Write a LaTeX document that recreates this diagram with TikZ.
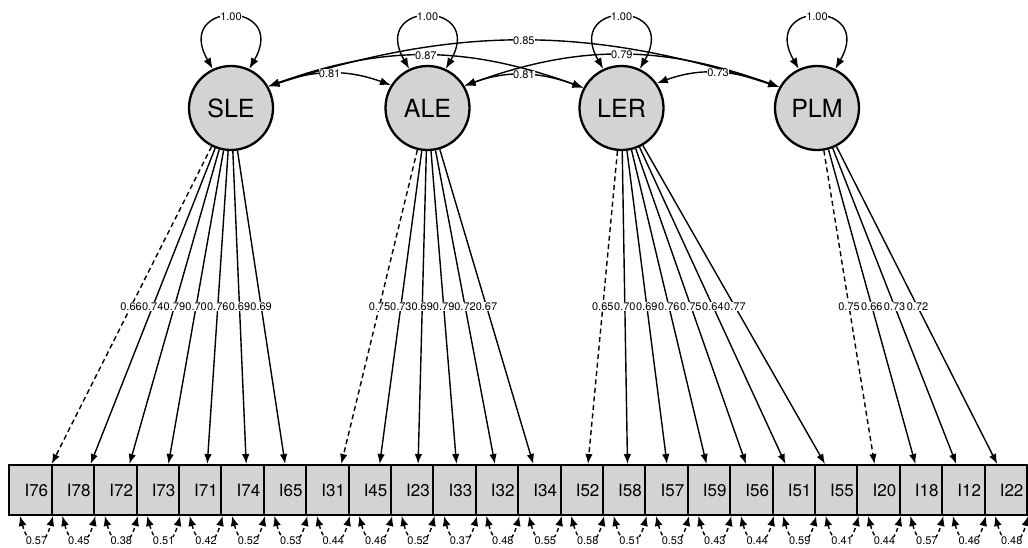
\documentclass[tikz,border=0pt]{standalone}
\usepackage{fontspec}
\setmainfont{TeX Gyre Heros}
\usetikzlibrary{arrows.meta,calc}
\definecolor{latfill}{RGB}{211,211,211}
\tikzset{
  lat/.style={circle, draw, line width=2.3pt, fill=latfill, minimum size=84pt, inner sep=0pt, font=\fontsize{25}{25}\selectfont},
  man/.style={rectangle, draw, line width=2pt, fill=latfill, minimum height=50pt, text width=35.4pt, inner xsep=3.5pt, inner ysep=0pt, align=right, font=\fontsize{17}{17}\selectfont},
  load/.style={-{Latex[length=10pt,width=7.5pt]}, line width=1.4pt},
  loaddash/.style={load, dash pattern=on 5pt off 3.5pt},
  cov/.style={{Latex[length=11pt,width=8pt]}-{Latex[length=11pt,width=8pt]}, line width=1.4pt},
  resid/.style={{Latex[length=10pt,width=8pt]}-{Latex[length=10pt,width=8pt]}, line width=1.4pt, dash pattern=on 4pt off 3pt},
  lbl/.style={fill=white, inner sep=0.3pt, font=\fontsize{11}{11}\selectfont},
}
\begin{document}
\begin{tikzpicture}[x=1pt,y=1pt]
\useasboundingbox (0,0) rectangle (1028,-547);
% latent variables
\node[lat] (SLE) at (231,-108) {SLE};
\node[lat] (ALE) at (427.5,-108) {ALE};
\node[lat] (LER) at (621.5,-108) {LER};
\node[lat] (PLM) at (817,-108) {PLM};
% manifest variables
\foreach \n [count=\i from 0] in {76,78,72,73,71,74,65,31,45,23,33,32,34,52,58,57,59,56,51,55,20,18,12,22}
  \node[man] (I\n) at ({30.5+42.4*\i},-490) {I\n};
% loadings: lines
\draw[loaddash] (SLE) -- ([xshift=21.2pt]I76.north);
\foreach \b/\s in {78/17.7,72/14.2,73/10.7,71/7.2,74/3.7,65/0.2}
  \draw[load] (SLE) -- ([xshift=\s pt]I\b.north);
\draw[loaddash] (ALE) -- ([xshift=14pt]I31.north);
\foreach \b/\s in {45/10,23/6,33/2,32/-2,34/-6}
  \draw[load] (ALE) -- ([xshift=\s pt]I\b.north);
\draw[loaddash] (LER) -- ([xshift=6.3pt]I52.north);
\foreach \b/\s in {58/3.4,57/0.5,59/-2.4,56/-5.3,51/-8.2,55/-11.1}
  \draw[load] (LER) -- ([xshift=\s pt]I\b.north);
\draw[loaddash] (PLM) -- ([xshift=-4pt]I20.north);
\foreach \b/\s in {18/-5.5,12/-7,22/-8.5}
  \draw[load] (PLM) -- ([xshift=\s pt]I\b.north);
% loadings: labels
\foreach \b/\s/\v in {76/21.2/0.66,78/17.7/0.74,72/14.2/0.79,73/10.7/0.70,71/7.2/0.76,74/3.7/0.69,65/0.2/0.69}
  \node[lbl] at ($(SLE.center)!0.5574!([xshift=\s pt]I\b.north)$) {\v};
\foreach \b/\s/\v in {31/14/0.75,45/10/0.73,23/6/0.69,33/2/0.79,32/-2/0.72,34/-6/0.67}
  \node[lbl] at ($(ALE.center)!0.5574!([xshift=\s pt]I\b.north)$) {\v};
\foreach \b/\s/\v in {52/6.3/0.65,58/3.4/0.70,57/0.5/0.69,59/-2.4/0.76,56/-5.3/0.75,51/-8.2/0.64,55/-11.1/0.77}
  \node[lbl] at ($(LER.center)!0.5574!([xshift=\s pt]I\b.north)$) {\v};
\foreach \b/\s/\v in {20/-4/0.75,18/-5.5/0.66,12/-7/0.73,22/-8.5/0.72}
  \node[lbl] at ($(PLM.center)!0.5574!([xshift=\s pt]I\b.north)$) {\v};
% variances of latents
\foreach \l in {SLE,ALE,LER,PLM}
  \draw[cov] (\l.115) to[out=120,in=60,looseness=5.6] node[lbl] {1.00} (\l.65);
% covariances
\draw[cov] (SLE.30) to[out=18,in=162] node[lbl] {0.85} (PLM.151);
\draw[cov] (SLE.30) to[out=20,in=160] node[lbl] {0.87} (LER.152);
\draw[cov] (ALE.31) to[out=20,in=160] node[lbl] {0.79} (PLM.151);
\draw[cov] (SLE.30) to[out=20,in=160] node[lbl] {0.81} (ALE.148);
\draw[cov] (ALE.31) to[out=20,in=160] node[lbl] {0.81} (LER.152);
\draw[cov] (LER.35) to[out=20,in=160] node[lbl] {0.73} (PLM.151);
% residual variances
\foreach \n/\v in {76/0.57,78/0.45,72/0.38,73/0.51,71/0.42,74/0.52,65/0.53,31/0.44,45/0.46,23/0.52,33/0.37,32/0.48,34/0.55,52/0.58,58/0.51,57/0.53,59/0.43,56/0.44,51/0.59,55/0.41,20/0.44,18/0.57,12/0.46,22/0.48}
  \draw[resid] ([xshift=-10.5pt]I\n.south) to[out=-75,in=-105,looseness=2.7] node[lbl] {\v} ([xshift=22.5pt]I\n.south);
\end{tikzpicture}
\end{document}
